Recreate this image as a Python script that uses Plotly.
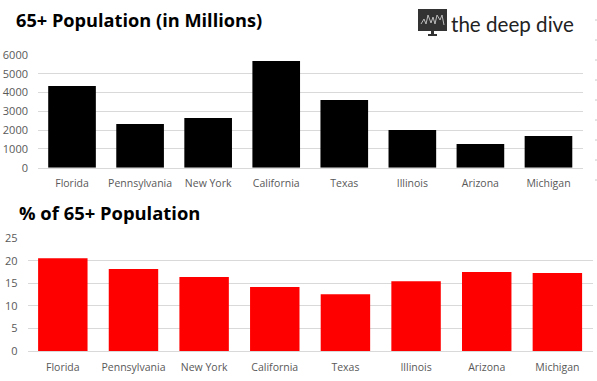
import plotly.graph_objects as go

states = ["Florida", "Pennsylvania", "New York", "California", "Texas", "Illinois", "Arizona", "Michigan"]
population = [4350, 2330, 2650, 5680, 3600, 2010, 1260, 1690]
share = [20.6, 18.2, 16.4, 14.2, 12.6, 15.5, 17.5, 17.3]
title_top = "65+ Population (in Millions)"
title_bottom = "% of 65+ Population"
logo_text = "the deep dive"
logo_wave_x = [421, 424, 426, 428, 431, 433, 435, 437, 440, 442, 444]
logo_wave_y = [24, 19, 24, 15, 23, 17, 24, 15, 20, 15, 25]

W, H = 597, 381
def px(x): return x / W
def py(y): return 1 - y / H

fig = go.Figure()
fig.add_trace(go.Bar(x=states, y=population, marker=dict(color="#000000", line_width=0), xaxis="x", yaxis="y"))
fig.add_trace(go.Bar(x=states, y=share, marker=dict(color="#ff0000", line_width=0), xaxis="x2", yaxis="y2"))

GRID = "#d9d9d9"
XTICK = dict(family="Open Sans", size=10.5, color="#595959")
YTICK = dict(family="Open Sans", size=11, color="#595959")
xcommon = dict(automargin=False, showgrid=False, showline=True, linecolor=GRID, linewidth=1, ticks="", tickfont=XTICK, fixedrange=True, ticklabelstandoff=6)
ycommon = dict(automargin=False, showgrid=True, gridcolor=GRID, gridwidth=1, zeroline=False, showline=False, ticks="", tickfont=YTICK, fixedrange=True, ticklabelstandoff=9)

shapes = []
for yy in range(20, 200, 20):
    shapes.append(dict(type="line", xref="paper", yref="paper", x0=px(595), x1=px(597), y0=py(yy), y1=py(yy), line=dict(color="#c8c8c8", width=1)))
shapes.append(dict(type="rect", xref="paper", yref="paper", x0=px(418), x1=px(447), y0=py(9), y1=py(31), fillcolor="#333333", line_width=0))
shapes.append(dict(type="rect", xref="paper", yref="paper", x0=px(431), x1=px(434), y0=py(31), y1=py(34), fillcolor="#333333", line_width=0))
shapes.append(dict(type="rect", xref="paper", yref="paper", x0=px(428), x1=px(437), y0=py(34), y1=py(36), fillcolor="#333333", line_width=0))
wave = "M " + " L ".join(f"{px(a)} {py(b)}" for a, b in zip(logo_wave_x, logo_wave_y))
shapes.append(dict(type="path", xref="paper", yref="paper", path=wave, line=dict(color="#bbbbbb", width=1)))

fig.update_layout(
    width=W, height=H, margin=dict(l=0, r=0, t=0, b=0, pad=0), showlegend=False,
    paper_bgcolor="white", plot_bgcolor="white", bargap=0.30,
    xaxis=dict(domain=[px(38), px(582.5)], anchor="y", **xcommon),
    yaxis=dict(domain=[py(167.7), py(55)], anchor="x", range=[0, 6000], dtick=1000, **ycommon),
    xaxis2=dict(domain=[px(27.5), px(592.7)], anchor="y2", **xcommon),
    yaxis2=dict(domain=[py(351), py(238.3)], anchor="x2", range=[0, 25], dtick=5, **ycommon),
    shapes=shapes,
    annotations=[
        dict(text=title_top, xref="paper", yref="paper", x=px(13.5), y=py(19.5), xanchor="left", yanchor="middle", showarrow=False,
             font=dict(family="Open Sans", size=18.2, color="#000000", weight="bold")),
        dict(text=title_bottom, xref="paper", yref="paper", x=px(17), y=py(212.5), xanchor="left", yanchor="middle", showarrow=False,
             font=dict(family="Open Sans", size=18.4, color="#000000", weight="bold")),
        dict(text=logo_text, xref="paper", yref="paper", x=px(448.5), y=py(24), xanchor="left", yanchor="middle", showarrow=False,
             font=dict(family="Lato", size=20.6, color="#222222")),
    ],
)
fig.write_html("out.html", config={"displayModeBar": False}, post_script="document.body.style.margin='0';")
